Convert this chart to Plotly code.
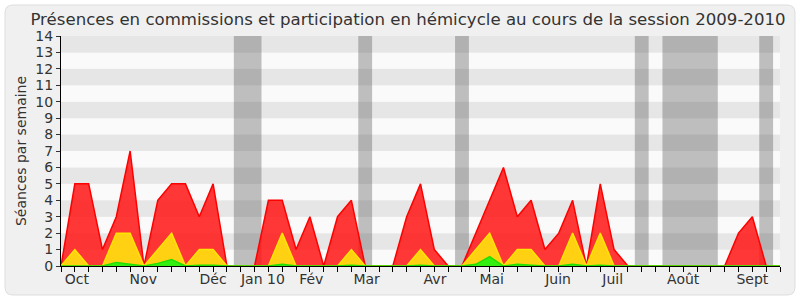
import plotly.graph_objects as go

weeks = list(range(53))
presences = [0, 5, 5, 1, 3, 7, 0, 4, 5, 5, 3, 5, 0, 0, 0, 4, 4, 1, 3, 0, 3, 4, 0, 0, 0, 3,
             5, 1, 0, 0, 2, 4, 6, 3, 4, 1, 2, 4, 0, 5, 1, 0, 0, 0, 0, 0, 0, 0, 0, 2, 3, 0, 0]
participations = [0, 1, 0, 0, 2, 2, 0, 1, 2, 0, 1, 1, 0, 0, 0, 0, 2, 0, 0, 0, 0, 1, 0, 0, 0, 0,
                  1, 0, 0, 0, 1, 2, 0, 1, 1, 0, 0, 2, 0, 2, 0, 0, 0, 0, 0, 0, 0, 0, 0, 0, 0, 0, 0]
interventions = [0, 0, 0, 0, 0.22, 0.1, 0, 0.16, 0.4, 0, 0.05, 0.05, 0, 0, 0, 0, 0.1, 0, 0, 0, 0,
                 0.05, 0, 0, 0, 0, 0.05, 0, 0, 0, 0.1, 0.57, 0, 0.1, 0.05, 0, 0, 0.1, 0, 0.05, 0,
                 0, 0, 0, 0, 0, 0, 0, 0, 0, 0, 0, 0]
month_labels = ["Oct", "Nov", "Déc", "Jan 10", "Fév", "Mar", "Avr", "Mai", "Juin", "Juil", "Août", "Sept"]
month_pos = [1.15, 5.95, 11.0, 14.6, 18.1, 22.1, 27.05, 31.15, 35.95, 39.9, 45.0, 50.0]
vacations = [(12.5, 14.5), (21.5, 22.5), (28.5, 29.5), (41.5, 42.5), (43.5, 47.5), (50.5, 51.5)]

fig = go.Figure()
fig.add_trace(go.Scatter(x=weeks, y=presences, mode="lines", fill="tozeroy",
                         line=dict(color="#ff0000", width=1.5), fillcolor="rgba(255,20,20,0.85)",
                         hoverinfo="skip"))
fig.add_trace(go.Scatter(x=weeks, y=participations, mode="lines", fill="tozeroy",
                         line=dict(color="#ffe600", width=1.5), fillcolor="#ffd112",
                         hoverinfo="skip"))
fig.add_trace(go.Scatter(x=weeks, y=interventions, mode="lines", fill="tozeroy",
                         line=dict(color="#22dd00", width=1.5), fillcolor="#33ee11",
                         hoverinfo="skip"))

shapes = []
pw, ph = 719.0, 230.0
def px(x):
    return (x - 61) / pw
def py(y):
    return (266 - y) / ph
x0, x1, y0, y1 = px(5), px(795), py(295), py(5)
rx, ry = 8 / pw, 8 / ph
path = (f"M {x0+rx},{y1} L {x1-rx},{y1} Q {x1},{y1} {x1},{y1-ry} L {x1},{y0+ry} "
        f"Q {x1},{y0} {x1-rx},{y0} L {x0+rx},{y0} Q {x0},{y0} {x0},{y0+ry} "
        f"L {x0},{y1-ry} Q {x0},{y1} {x0+rx},{y1} Z")
shapes.append(dict(type="path", path=path, xref="paper", yref="paper",
                   fillcolor="#f0f0f0", line=dict(color="#dddddd", width=1), layer="below"))
for k in range(14):
    shapes.append(dict(type="rect", xref="x", yref="y", x0=0, x1=52, y0=k, y1=k + 1,
                       fillcolor="#e6e6e6" if k % 2 == 1 else "#fafafa",
                       line=dict(width=0), layer="below"))
for a, b in vacations:
    shapes.append(dict(type="rect", xref="x", yref="y", x0=a, x1=b, y0=0, y1=14,
                       fillcolor="rgba(76,76,76,0.35)", line=dict(width=0), layer="below"))

fig.update_layout(
    width=800, height=300,
    margin=dict(l=61, r=20, t=36, b=34),
    paper_bgcolor="white", plot_bgcolor="rgba(0,0,0,0)",
    showlegend=False,
    shapes=shapes,
    font=dict(family="DejaVu Sans", color="#333333", size=13),
    title=dict(text="Présences en commissions et participation en hémicycle au cours de la session 2009-2010",
               x=0.51, xanchor="center", y=0.935, yanchor="middle",
               font=dict(size=16.6, color="#333333")),
    xaxis=dict(range=[0, 52], showgrid=False, zeroline=False, showline=True,
               linecolor="#000000", linewidth=1,
               tickmode="array", tickvals=month_pos, ticktext=month_labels,
               ticks="", tickfont=dict(size=14, color="#333333"),
               minor=dict(tickmode="array", tickvals=weeks, ticks="outside", ticklen=5,
                          tickcolor="#000000", tickwidth=1)),
    yaxis=dict(range=[0, 14], dtick=1, tick0=0, showgrid=False, zeroline=False, showline=True,
               linecolor="#000000", linewidth=1, ticks="outside", ticklen=4,
               tickcolor="#333333", tickfont=dict(size=14, color="#333333"),
               title=dict(text="Séances par semaine", font=dict(size=14, color="#333333"),
                          standoff=5)),
)

fig.write_html("out.html")
